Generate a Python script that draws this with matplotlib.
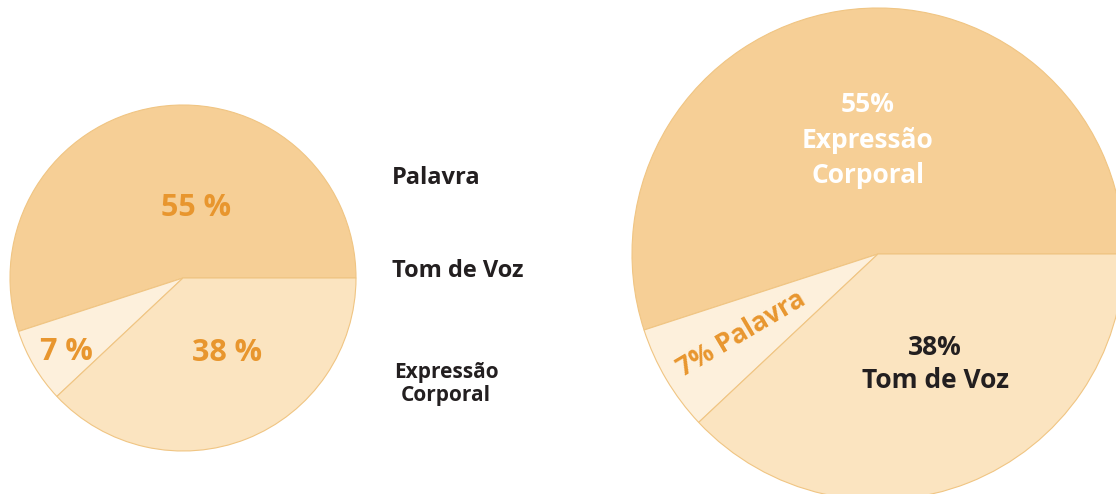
import matplotlib.pyplot as plt

# data
shares = [55, 7, 38]
left_labels = ["55 %", "7 %", "38 %"]
legend_names = ["Palavra", "Tom de Voz", "Expressão\nCorporal"]
right_labels = ["55%\nExpressão\nCorporal", "7% Palavra", "38%\nTom de Voz"]

slice_colors = ["#F6CF96", "#FDF0DC", "#FBE4C0"]
orange = "#E8962E"
dark = "#231F20"
font = ["Open Sans", "DejaVu Sans"]
weight = "bold"

W, H = 1116, 494
fig = plt.figure(figsize=(W / 100, H / 100), dpi=100)
ax = fig.add_axes([0, 0, 1, 1])

wedge_style = dict(edgecolor="#F0C583", linewidth=0.8)

## left pie: percentages only, names listed beside it
left_c, left_r = (183, H - 278), 173
ax.pie(shares, colors=slice_colors, startangle=0, counterclock=True,
       center=left_c, radius=left_r, wedgeprops=wedge_style, frame=True)

## right pie: bigger, labels inside
right_c, right_r = (878, H - 254), 246
ax.pie(shares, colors=slice_colors, startangle=0, counterclock=True,
       center=right_c, radius=right_r, wedgeprops=wedge_style, frame=True)

# left pie labels (offsets from centre, in pixels)
left_offsets = [(13, 70), (-117, -74), (44, -75)]
for txt, (dx, dy) in zip(left_labels, left_offsets):
    ax.text(left_c[0] + dx, left_c[1] + dy, txt, color=orange, fontsize=22,
            fontweight=weight, family=font, ha="center", va="center")

# names next to the left pie
ax.text(392, H - 178, legend_names[0], color=dark, fontsize=17, fontweight=weight,
        family=font, ha="left", va="center")
ax.text(392, H - 271, legend_names[1], color=dark, fontsize=17, fontweight=weight,
        family=font, ha="left", va="center")
ax.text(446, H - 384, legend_names[2], color=dark, fontsize=15, fontweight=weight,
        family=font, ha="center", va="center", linespacing=1.12, multialignment="center")

# right pie labels
ax.text(868, H - 140, right_labels[0], color="white", fontsize=19, fontweight=weight,
        family=font, ha="center", va="center", linespacing=1.42)
ax.text(741, H - 334, right_labels[1], color=orange, fontsize=19, fontweight=weight,
        family=font, ha="center", va="center", rotation=30.6, rotation_mode="anchor")
ax.text(935, H - 364, right_labels[2], color=dark, fontsize=19, fontweight=weight,
        family=font, ha="center", va="center", linespacing=1.32)

ax.set_xlim(0, W)
ax.set_ylim(0, H)
ax.set_aspect("equal")
ax.axis("off")

fig.savefig("out.png", dpi=100)
